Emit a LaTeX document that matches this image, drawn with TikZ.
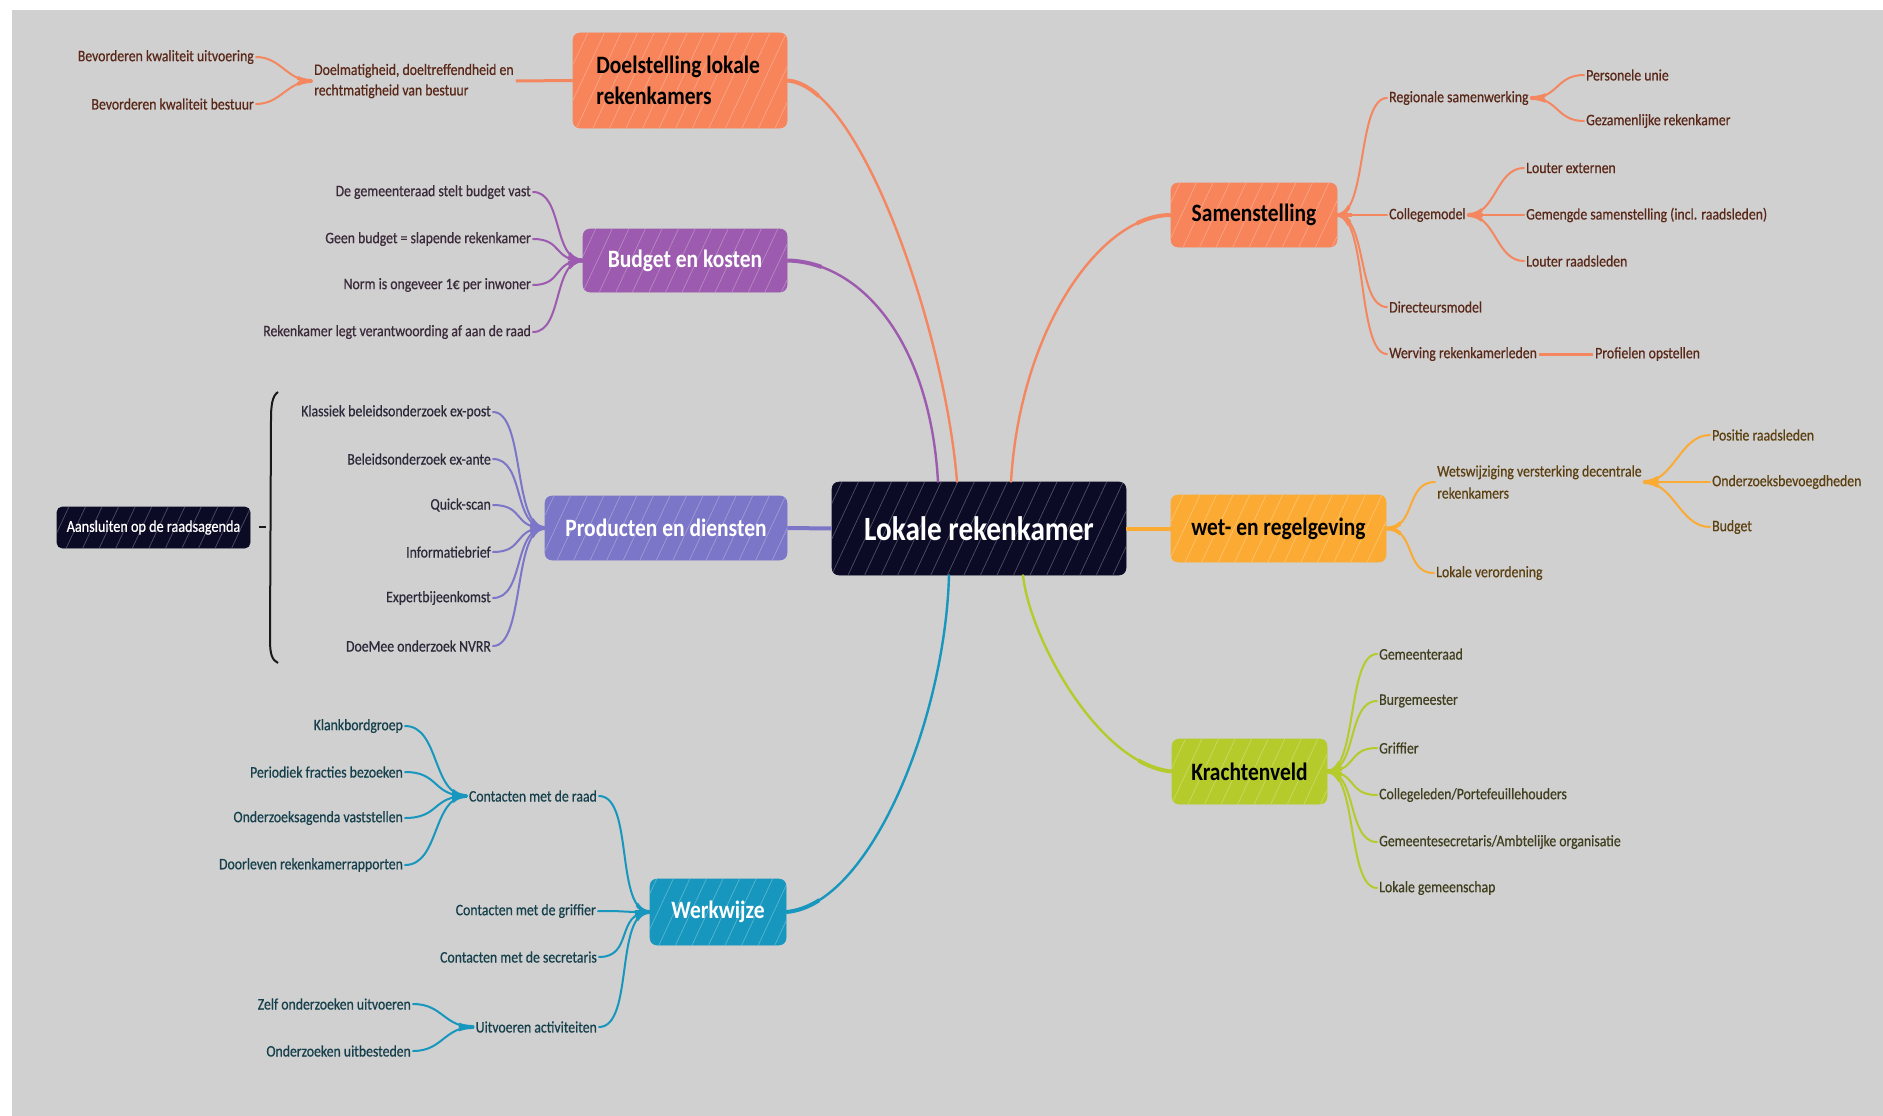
\documentclass[tikz,border=0pt]{standalone}
\usepackage{fontspec}
\setmainfont{Carlito}[FakeStretch=0.86]
\newfontfamily\leaffont{Carlito}[FakeStretch=0.86, FakeBold=0.6]
\usetikzlibrary{patterns.meta}
\definecolor{bg}{HTML}{D0D0D0}
\definecolor{cOr}{HTML}{F7845A}
\definecolor{lOr}{HTML}{F4875F}
\definecolor{tOr}{HTML}{5A2818}
\definecolor{cPu}{HTML}{9C5BAE}
\definecolor{tPu}{HTML}{3A2A3A}
\definecolor{cPe}{HTML}{7B76C7}
\definecolor{tPe}{HTML}{2C2A3A}
\definecolor{cTe}{HTML}{1797BE}
\definecolor{tTe}{HTML}{16404C}
\definecolor{cYe}{HTML}{FBAB34}
\definecolor{tYe}{HTML}{5C4010}
\definecolor{cLi}{HTML}{B4CB2B}
\definecolor{tLi}{HTML}{404020}
\definecolor{navy}{HTML}{0B0B26}
% fan of tapered connectors: colour, parent anchor, children, ctrl1, ctrl2, child anchor
\newcommand\mmfan[6]{%
  \foreach \c in {#3} \draw[cn,#1] (#2) .. controls +(#4,0) and +(#5,0) .. (\c.#6);
  \begin{scope}\clip (#2) circle (15pt);
  \foreach \c in {#3} \draw[line width=3.8pt,#1] (#2) .. controls +(#4,0) and +(#5,0) .. (\c.#6);
  \end{scope}}
\begin{document}
\begin{tikzpicture}[x=1pt,y=-1pt,
  box/.style={rounded corners=7pt, inner sep=0pt, align=center, fill=#1, draw=#1, line width=0.6pt,
    font=\fontsize{25}{31}\selectfont\bfseries,
    postaction={pattern={Lines[angle=65,distance=15pt,line width=0.7pt]}, pattern color=#1!72!white}},
  leaf/.style={inner sep=2pt, font=\leaffont\fontsize{16}{20.5}\selectfont},
  cn/.style={line width=2pt, line cap=round},
  mainc/.style={line width=2.4pt, line cap=round},
]
\useasboundingbox (0,0) rectangle (1883,1116);
\fill[white] (0,0) rectangle (1883,1116);
\fill[bg] (12,10) rectangle (1883,1116);

% ---------- main boxes ----------
\node[box=navy, text=white, minimum width=294pt, minimum height=93pt,
  font=\fontsize{34}{40}\selectfont\bfseries] (root) at (979,528.5) {Lokale rekenkamer};
\node[box=cOr, text=black, minimum width=214pt, minimum height=95pt, align=left] (doel) at (680,80.5) {Doelstelling lokale\\rekenkamers\hspace*{52pt}};
\node[box=cPu, text=white, minimum width=204pt, minimum height=63pt] (budget) at (685,260.5) {Budget en kosten};
\node[box=cPe, text=white, minimum width=242pt, minimum height=64pt] (prod) at (666,528) {Producten en diensten};
\node[box=cTe, text=white, minimum width=136pt, minimum height=66pt] (werk) at (718,912) {Werkwijze};
\node[box=cOr, text=black, minimum width=166pt, minimum height=64pt] (samen) at (1254,215) {Samenstelling};
\node[box=cYe, text=black, minimum width=215pt, minimum height=67pt] (wet) at (1278.5,528.5) {wet- en regelgeving};
\node[box=cLi, text=black, minimum width=155pt, minimum height=65pt] (kracht) at (1249.5,771.5) {Krachtenveld};
\node[box=navy, text=white, minimum width=193pt, minimum height=41pt, rounded corners=5pt,
  font=\leaffont\fontsize{16.5}{19}\selectfont] (aans) at (153.5,527.5) {Aansluiten op de raadsagenda};

% ---------- main connectors ----------
\draw[mainc, lOr] (doel.east) .. controls (860,85) and (945,330) .. ([xshift=-22pt]root.north);
\draw[mainc, cPu] (budget.east) .. controls (860,262) and (930,340) .. ([xshift=-41pt]root.north);
\draw[mainc, cTe] (werk.east) .. controls (870,905) and (945,720) .. ([xshift=-30pt]root.south);
\draw[mainc, lOr] (samen.west) .. controls (1100,215) and (1020,330) .. ([xshift=32pt]root.north);
\draw[mainc, cLi] (kracht.west) .. controls (1100,765) and (1030,640) .. ([xshift=44pt]root.south);
\begin{scope}\clip (doel.east) circle (35pt);
\draw[line width=4pt, lOr] (doel.east) .. controls (860,85) and (945,330) .. ([xshift=-22pt]root.north);\end{scope}
\begin{scope}\clip (budget.east) circle (35pt);
\draw[line width=4pt, cPu] (budget.east) .. controls (860,262) and (930,340) .. ([xshift=-41pt]root.north);\end{scope}
\begin{scope}\clip (werk.east) circle (35pt);
\draw[line width=4pt, cTe] (werk.east) .. controls (870,905) and (945,720) .. ([xshift=-30pt]root.south);\end{scope}
\begin{scope}\clip (samen.west) circle (35pt);
\draw[line width=4pt, lOr] (samen.west) .. controls (1100,215) and (1020,330) .. ([xshift=32pt]root.north);\end{scope}
\begin{scope}\clip (kracht.west) circle (35pt);
\draw[line width=4pt, cLi] (kracht.west) .. controls (1100,765) and (1030,640) .. ([xshift=44pt]root.south);\end{scope}
\draw[line width=4pt, cPe] (prod.east) -- (root.west);
\draw[line width=4pt, cYe] (root.east) -- (wet.west);

% ---------- Doelstelling ----------
\node[leaf, text=tOr, align=left, anchor=west] (d1) at (312,81) {Doelmatigheid, doeltreffendheid en\\rechtmatigheid van bestuur};
\node[leaf, text=tOr, anchor=east] (d1a) at (256,57) {Bevorderen kwaliteit uitvoering};
\node[leaf, text=tOr, anchor=east] (d1b) at (256,104) {Bevorderen kwaliteit bestuur};
\draw[line width=3pt, lOr] (d1.east) -- (doel.west);
\mmfan{lOr}{d1.west}{d1a,d1b}{-25}{25}{east}

% ---------- Budget ----------
\node[leaf, text=tPu, anchor=east] (b1) at (533,192) {De gemeenteraad stelt budget vast};
\node[leaf, text=tPu, anchor=east] (b2) at (533,239) {Geen budget = slapende rekenkamer};
\node[leaf, text=tPu, anchor=east] (b3) at (533,285) {Norm is ongeveer 1€ per inwoner};
\node[leaf, text=tPu, anchor=east] (b4) at (533,332) {Rekenkamer legt verantwoording af aan de raad};
\mmfan{cPu}{budget.west}{b1,b2,b3,b4}{-30}{30}{east}

% ---------- Producten ----------
\node[leaf, text=tPe, anchor=east] (p1) at (493,412) {Klassiek beleidsonderzoek ex-post};
\node[leaf, text=tPe, anchor=east] (p2) at (493,459) {Beleidsonderzoek ex-ante};
\node[leaf, text=tPe, anchor=east] (p3) at (493,505) {Quick-scan};
\node[leaf, text=tPe, anchor=east] (p4) at (493,552) {Informatiebrief};
\node[leaf, text=tPe, anchor=east] (p5) at (493,598) {Expertbijeenkomst};
\node[leaf, text=tPe, anchor=east] (p6) at (493,646) {DoeMee onderzoek NVRR};
\mmfan{cPe}{prod.west}{p1,p2,p3,p4,p5,p6}{-32}{32}{east}

% brace
\coordinate (brmid) at (266,527);
\draw[line width=2pt, black!90] (278,392) .. controls (272,396) and (271,406) .. (271,420) -- (270,640) .. controls (270,654) and (272,660) .. (278,663);
\draw[line width=2pt, black!90] (brmid) -- +(-7,0);

% ---------- Werkwijze ----------
\node[leaf, text=tTe, anchor=east] (w1) at (599,796) {Contacten met de raad};
\node[leaf, text=tTe, anchor=east] (w2) at (598,911) {Contacten met de griffier};
\node[leaf, text=tTe, anchor=east] (w3) at (599,957) {Contacten met de secretaris};
\node[leaf, text=tTe, anchor=east] (w4) at (599,1027) {Uitvoeren activiteiten};
\mmfan{cTe}{werk.west}{w1,w2,w3,w4}{-35}{35}{east}
\node[leaf, text=tTe, anchor=east] (w1a) at (405,726) {Klankbordgroep};
\node[leaf, text=tTe, anchor=east] (w1b) at (405,772) {Periodiek fracties bezoeken};
\node[leaf, text=tTe, anchor=east] (w1c) at (405,818) {Onderzoeksagenda vaststellen};
\node[leaf, text=tTe, anchor=east] (w1d) at (405,865) {Doorleven rekenkamerrapporten};
\mmfan{cTe}{w1.west}{w1a,w1b,w1c,w1d}{-35}{35}{east}
\node[leaf, text=tTe, anchor=east] (w4a) at (413,1004) {Zelf onderzoeken uitvoeren};
\node[leaf, text=tTe, anchor=east] (w4b) at (413,1051) {Onderzoeken uitbesteden};
\mmfan{cTe}{w4.west}{w4a,w4b}{-30}{30}{east}

% ---------- Samenstelling ----------
\node[leaf, text=tOr, anchor=west] (s1) at (1387,98) {Regionale samenwerking};
\node[leaf, text=tOr, anchor=west] (s2) at (1387,215) {Collegemodel};
\node[leaf, text=tOr, anchor=west] (s3) at (1387,307) {Directeursmodel};
\node[leaf, text=tOr, anchor=west] (s4) at (1387,354) {Werving rekenkamerleden};
\mmfan{lOr}{samen.east}{s1,s2,s3,s4}{30}{-30}{west}
\node[leaf, text=tOr, anchor=west] (s1a) at (1584,75) {Personele unie};
\node[leaf, text=tOr, anchor=west] (s1b) at (1584,121) {Gezamenlijke rekenkamer};
\mmfan{lOr}{s1.east}{s1a,s1b}{28}{-28}{west}
\node[leaf, text=tOr, anchor=west] (s2a) at (1524,168) {Louter externen};
\node[leaf, text=tOr, anchor=west] (s2b) at (1524,215) {Gemengde samenstelling (incl. raadsleden)};
\node[leaf, text=tOr, anchor=west] (s2c) at (1524,261) {Louter raadsleden};
\mmfan{lOr}{s2.east}{s2a,s2b,s2c}{28}{-28}{west}
\node[leaf, text=tOr, anchor=west] (s4a) at (1593,354) {Profielen opstellen};
\draw[line width=3pt, lOr] (s4.east) -- (s4a.west);

% ---------- wet- en regelgeving ----------
\node[leaf, text=tYe, anchor=west, align=left, font=\leaffont\fontsize{16}{22}\selectfont] (r1) at (1435,482) {Wetswijziging versterking decentrale\\rekenkamers};
\node[leaf, text=tYe, anchor=west] (r2) at (1434,573) {Lokale verordening};
\mmfan{cYe}{wet.east}{r1,r2}{30}{-30}{west}
\node[leaf, text=tYe, anchor=west] (r1a) at (1710,435) {Positie raadsleden};
\node[leaf, text=tYe, anchor=west] (r1b) at (1710,482) {Onderzoeksbevoegdheden};
\node[leaf, text=tYe, anchor=west] (r1c) at (1710,527) {Budget};
\mmfan{cYe}{r1.east}{r1a,r1b,r1c}{30}{-30}{west}

% ---------- Krachtenveld ----------
\node[leaf, text=tLi, anchor=west] (k1) at (1377,654) {Gemeenteraad};
\node[leaf, text=tLi, anchor=west] (k2) at (1377,701) {Burgemeester};
\node[leaf, text=tLi, anchor=west] (k3) at (1377,748) {Griffier};
\node[leaf, text=tLi, anchor=west] (k4) at (1377,795) {Collegeleden/Portefeuillehouders};
\node[leaf, text=tLi, anchor=west] (k5) at (1377,842) {Gemeentesecretaris/Ambtelijke organisatie};
\node[leaf, text=tLi, anchor=west] (k6) at (1377,888) {Lokale gemeenschap};
\mmfan{cLi}{kracht.east}{k1,k2,k3,k4,k5,k6}{30}{-30}{west}
\end{tikzpicture}
\end{document}
